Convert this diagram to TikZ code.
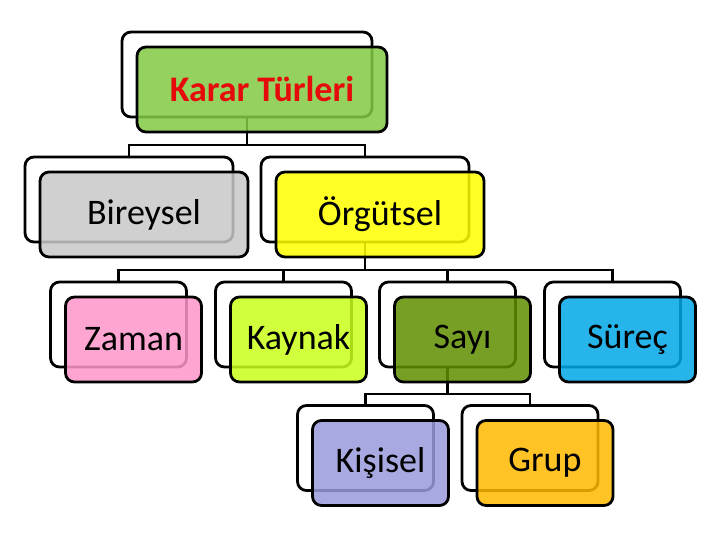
\documentclass[tikz,border=0pt]{standalone}
\usepackage{fontspec}
\setmainfont{Carlito}
\definecolor{cgreen}{RGB}{131,202,67}
\definecolor{cgray}{RGB}{200,200,200}
\definecolor{cyellow}{RGB}{255,255,0}
\definecolor{cpink}{RGB}{255,150,202}
\definecolor{clime}{RGB}{202,255,26}
\definecolor{colive}{RGB}{96,143,0}
\definecolor{cblue}{RGB}{0,167,232}
\definecolor{clav}{RGB}{155,155,220}
\definecolor{camber}{RGB}{255,185,0}
\definecolor{cred}{RGB}{230,10,10}
\begin{document}
\begin{tikzpicture}[x=1pt,y=-1pt,
  backbox/.style={draw=black, line width=2.8pt, fill=white, rounded corners=9pt,
    minimum height=85pt, inner sep=0pt},
  frontbox/.style={draw=black, line width=2.8pt, rounded corners=9pt,
    minimum height=85pt, inner sep=0pt, fill opacity=0.85, text opacity=1,
    font=\fontsize{36}{40}\selectfont},
  conn/.style={draw=black, line width=2.8pt},
  wA/.style={minimum width=250pt},
  wB/.style={minimum width=208pt},
  wC/.style={minimum width=136pt}]
\useasboundingbox[fill=white] (0,0) rectangle (720,540);

% back boxes
\node[backbox,wA] (kb) at (247,74.5) {};
\node[backbox,wB] (bb) at (129,199.5) {};
\node[backbox,wB] (ob) at (365,199.5) {};
\node[backbox,wC] (zb) at (118.5,324.5) {};
\node[backbox,wC] (yb) at (283.5,324.5) {};
\node[backbox,wC] (sb) at (447.5,324.5) {};
\node[backbox,wC] (rb) at (612.5,324.5) {};
\node[backbox,wC] (ib) at (365.5,448) {};
\node[backbox,wC] (gb) at (530,448) {};

% bus levels
\coordinate (bus1) at (0,145);
\coordinate (bus2) at (0,270);
\coordinate (bus3) at (0,394);

% connectors
\draw[conn] (kb.south) -- (kb.south |- bus1) -| (bb.north);
\draw[conn] (kb.south |- bus1) -| (ob.north);
\draw[conn] (ob.south) -- (ob.south |- bus2) -| (zb.north);
\draw[conn] (ob.south |- bus2) -| (yb.north);
\draw[conn] (ob.south |- bus2) -| (sb.north);
\draw[conn] (ob.south |- bus2) -| (rb.north);
\draw[conn] (sb.south) -- (sb.south |- bus3) -| (ib.north);
\draw[conn] (sb.south |- bus3) -| (gb.north);

% front boxes
\node[frontbox,wA,fill=cgreen,text=cred,font=\fontsize{36}{40}\selectfont\bfseries] (k) at (262,89.5) {Karar Türleri};
\node[frontbox,wB,fill=cgray] (b) at (144,214.5) {Bireysel};
\node[frontbox,wB,fill=cyellow] (o) at (380,214.5) {Örgütsel};
\node[frontbox,wC,fill=cpink] (z) at (133.5,339.5) {Zaman};
\node[frontbox,wC,fill=clime] (y) at (298.5,339.5) {Kaynak};
\node[frontbox,wC,fill=colive] (s) at (462.5,339.5) {Sayı};
\node[frontbox,wC,fill=cblue] (r) at (627.5,339.5) {Süreç};
\node[frontbox,wC,fill=clav] (i) at (380.5,463) {Kişisel};
\node[frontbox,wC,fill=camber] (g) at (545,463) {Grup};
\end{tikzpicture}
\end{document}
